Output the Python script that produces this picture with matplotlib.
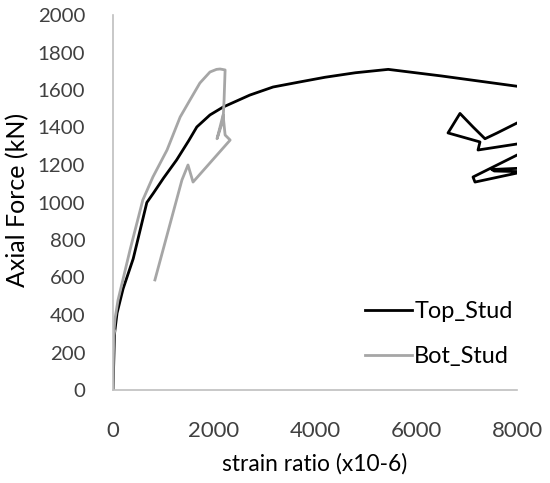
import matplotlib
matplotlib.use('Agg')
import matplotlib.pyplot as plt

# Top stud: strain (x10-6) and axial force (kN); points past 8000 get clipped by the axis
top_strain = [0, 30, 80, 200, 400, 670, 800, 1000, 1260, 1500, 1660, 1920, 2180, 2710, 3170,
              3700, 4200, 4800, 5450, 6500, 8000, 9000,
              8300, 8000, 7600, 7366, 7129, 6871, 6634, 7267, 7228, 8000, 8500,
              8500, 8000, 7129, 7168, 8000, 8600,
              8600, 8000, 7500, 7550, 8000, 8600]
top_force = [0, 300, 410, 540, 700, 1000, 1050, 1130, 1227, 1330, 1403, 1467, 1509, 1573, 1616,
             1643, 1668, 1692, 1710, 1675, 1620, 1590,
             1460, 1424, 1370, 1340, 1403, 1475, 1371, 1323, 1280, 1312, 1330,
             1290, 1253, 1136, 1109, 1157, 1160,
             1185, 1182, 1176, 1168, 1165, 1163]

# Bottom stud
bot_strain = [0, 10, 20, 0, 40, 100, 340, 590, 790, 1070, 1330, 1525, 1720, 1920, 2050, 2120,
              2220, 2200, 2180, 2060, 2120, 2180, 2220, 2320, 1585, 1485, 1365, 830]
bot_force = [0, 200, 320, 250, 380, 480, 750, 1013, 1136, 1280, 1456, 1547, 1637, 1696, 1710, 1712,
             1707, 1550, 1440, 1340, 1403, 1467, 1360, 1333, 1109, 1200, 1120, 587]

x_ticks = [0, 2000, 4000, 6000, 8000]
y_ticks = list(range(0, 2001, 200))

plt.rcParams['font.family'] = ['Lato', 'DejaVu Sans']

fig = plt.figure(figsize=(5.5, 4.83), dpi=100)
ax = fig.add_axes([113 / 550, 1 - 390 / 483, 404 / 550, 375 / 483])


def size_for(s, target_px, vertical=False, base=12):
    # font size that makes string s span target_px pixels
    t = fig.text(0, 0, s, fontsize=base, rotation=90 if vertical else 0)
    bb = t.get_window_extent(fig.canvas.get_renderer())
    t.remove()
    cur = bb.height if vertical else bb.width
    return base * target_px / cur


ax.plot(top_strain, top_force, color='black', lw=2.0, label='Top_Stud')
ax.plot(bot_strain, bot_force, color='#a6a6a6', lw=2.0, label='Bot_Stud')

ax.set_xlim(0, 8000)
ax.set_ylim(0, 2000)
ax.set_xticks(x_ticks)
ax.set_yticks(y_ticks)

for s in ['top', 'right']:
    ax.spines[s].set_visible(False)
for s in ['left', 'bottom']:
    ax.spines[s].set_color('#bfbfbf')
    ax.spines[s].set_linewidth(1.2)

ax.tick_params(axis='x', length=0, pad=22, labelsize=size_for('2000', 51), labelcolor='#404040')
ax.tick_params(axis='y', length=0, pad=20, labelsize=size_for('2000', 47), labelcolor='#404040')

fig.text(315 / 550, 1 - 464 / 483, 'strain ratio (x10-6)', ha='center', va='center',
         fontsize=size_for('strain ratio (x10-6)', 184))
fig.text(18 / 550, 1 - 200 / 483, 'Axial Force (kN)', ha='center', va='center', rotation=90,
         fontsize=size_for('Axial Force (kN)', 174, vertical=True))

leg_size = size_for('Top_Stud', 98)
ax.legend(frameon=False, loc='center left', bbox_to_anchor=(365 / 550, 1 - 334 / 483),
          bbox_transform=fig.transFigure, fontsize=leg_size, handlelength=47 / (leg_size * 100 / 72),
          handletextpad=0.1, labelspacing=1.0, borderpad=0, borderaxespad=0)

fig.savefig('out.png', dpi=100)
